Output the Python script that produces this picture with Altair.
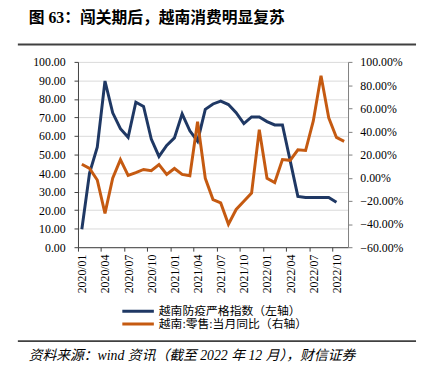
import json
import altair as alt
import pandas as pd

# ---- data ----
months = [f"{y}/{m:02d}" for y in (2020, 2021, 2022) for m in range(1, 13)][:35]
tick_labels = months[::3]

strict_name = "越南防疫严格指数（左轴）"
retail_name = "越南:零售:当月同比（右轴）"

strict_index = [9.7, 40, 54, 89.7, 72.5, 64, 59.3, 78.2, 76, 58.4, 49, 54.9,
                59, 72, 62.8, 57.2, 74.4, 77.3, 78.8, 77, 72.6, 66.7, 70.3, 70.3,
                67.8, 66, 66, 46.7, 27.4, 26.8, 26.8, 26.8, 26.8, 24.2]
retail_yoy = [11.6, 8, -2, -30.8, -0.5, 15.6, 2, 4.3, 7.1, 6, 11.4, 2.9,
              8, 2.9, 1.7, 48.4, -0.5, -18.9, -21.8, -40.2, -27.4, -20.4, -13.3, 41.4,
              -0.5, -4.2, 15.6, 15, 24.1, 23.5, 49, 88, 51.8, 34.8, 31.4]

title_text = "图 63：闯关期后，越南消费明显复苏"
source_text = "资料来源：wind 资讯（截至 2022 年 12 月），财信证券"

left_ticks = [0, 10, 20, 30, 40, 50, 60, 70, 80, 90, 100]
right_ticks = [-60, -40, -20, 0, 20, 40, 60, 80, 100]

BLUE = "#1f3864"
ORANGE = "#c55a11"
SERIF = "Liberation Serif, Noto Sans CJK SC"
CJK = "Liberation Serif, Noto Sans CJK SC"

df_a = pd.DataFrame({"idx": list(range(len(strict_index))), "value": strict_index,
                     "series": strict_name})
df_b = pd.DataFrame({"idx": list(range(len(retail_yoy))), "value": retail_yoy,
                     "series": retail_name})

label_expr = json.dumps(tick_labels) + "[round((datum.value + 0.5) / 3)]"
x_enc = alt.X("idx:Q", scale=alt.Scale(domain=[-0.5, len(months) - 0.5], nice=False, zero=False),
              axis=alt.Axis(values=[i * 3 - 0.5 for i in range(len(tick_labels))],
                            labelExpr=label_expr, labelAngle=-90, labelOffset=3.9,
                            title=None, grid=False, tickSize=4, labelPadding=3,
                            labelFont=SERIF, labelFontSize=12, labelColor="#000000",
                            domainColor="#404040", tickColor="#404040"))

color = alt.Color("series:N",
                  scale=alt.Scale(domain=[strict_name, retail_name], range=[BLUE, ORANGE]),
                  legend=alt.Legend(title=None, orient="none", legendX=43.5, legendY=246.5,
                                    symbolType="stroke", symbolSize=1024, symbolStrokeWidth=3,
                                    clipHeight=13, rowPadding=0, padding=0, labelOffset=3.5,
                                    labelFont=CJK, labelFontSize=12, labelColor="#000000",
                                    labelLimit=400))

line_a = alt.Chart(df_a).mark_line(strokeWidth=3).encode(
    x=x_enc,
    y=alt.Y("value:Q", scale=alt.Scale(domain=[0, 100], nice=False),
            axis=alt.Axis(orient="left", values=left_ticks, format=".2f", title=None,
                          grid=True, gridColor="#d9d9d9", tickSize=4, labelPadding=9,
                          labelFont=SERIF, labelFontSize=12, labelColor="#000000",
                          domainColor="#404040", tickColor="#404040")),
    color=color,
)

line_b = alt.Chart(df_b).mark_line(strokeWidth=3).encode(
    x=x_enc,
    y=alt.Y("value:Q", scale=alt.Scale(domain=[-60, 100], nice=False),
            axis=alt.Axis(orient="right", values=right_ticks, title=None, grid=False,
                          labelExpr="format(datum.value, '.2f') + '%'",
                          tickSize=4, labelPadding=8,
                          labelFont=SERIF, labelFontSize=12, labelColor="#000000",
                          domainColor="#7f7f7f", tickColor="#7f7f7f")),
    color=color,
)

one = pd.DataFrame({"t": [title_text]})
src = pd.DataFrame({"t": [source_text]})
dummy = pd.DataFrame({"a": [0]})

title_mark = alt.Chart(one).mark_text(align="left", baseline="top", font=CJK, fontSize=16,
                                      fontWeight="bold", color="#000000").encode(
    text="t:N", x=alt.value(-50), y=alt.value(-52))
source_mark = alt.Chart(src).mark_text(align="left", baseline="middle", font=CJK, fontSize=14,
                                       fontStyle="italic", color="#000000").encode(
    text="t:N", x=alt.value(-50), y=alt.value(298))
rule_top = alt.Chart(dummy).mark_rule(color="#404040", strokeWidth=2).encode(
    x=alt.value(-61), x2=alt.value(343), y=alt.value(-17.7))
rule_bot = alt.Chart(dummy).mark_rule(color="#404040", strokeWidth=2).encode(
    x=alt.value(-61), x2=alt.value(343), y=alt.value(283.3))

chart = alt.layer(line_a, line_b, title_mark, source_mark, rule_top, rule_bot).resolve_scale(
    y="independent"
).properties(
    width=274, height=188,
    autosize=alt.AutoSizeParams(type="none"),
    padding={"left": 71, "top": 52, "right": 71, "bottom": 129},
).configure_view(stroke=None)

chart.save("out.html", embed_options={"renderer": "svg", "actions": False})
